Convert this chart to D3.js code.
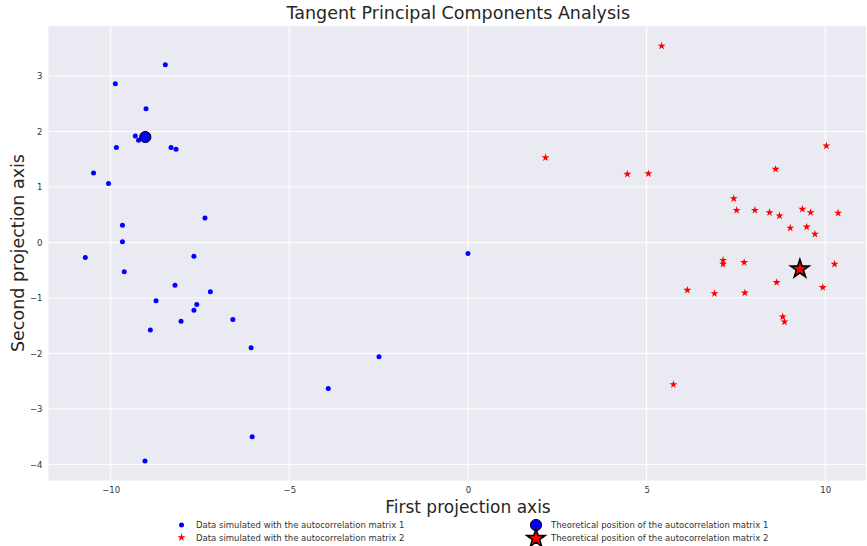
<!DOCTYPE html>
<html><head><meta charset="utf-8">
<script src="https://cdn.jsdelivr.net/npm/d3@7"></script>
<style>body{margin:0;background:#fff;} text{font-family:"DejaVu Sans",sans-serif;}</style>
</head><body>
<svg id="c" width="867" height="546"></svg>
<script>
const series1X = [-8.47,-9.87,-9.01,-9.31,-9.22,-9.84,-8.31,-8.17,-10.48,-10.06,-9.67,-7.36,-9.67,-10.71,-7.67,-9.62,-8.20,-7.21,-8.73,-7.59,-7.67,-6.58,-8.03,-8.89,-6.07,-3.91,-6.04,-9.04,-2.49,0.0];
const series1Y = [3.20,2.86,2.41,1.92,1.84,1.71,1.71,1.68,1.25,1.06,0.31,0.44,0.01,-0.27,-0.25,-0.53,-0.77,-0.89,-1.05,-1.12,-1.22,-1.39,-1.42,-1.58,-1.90,-2.63,-3.50,-3.94,-2.06,-0.20];
const series2X = [5.42,2.17,4.46,5.05,10.03,8.61,7.44,7.52,8.03,8.44,8.72,9.36,9.59,10.36,9.02,9.48,9.71,7.14,7.14,7.73,10.26,8.64,9.93,6.14,6.90,7.75,8.81,8.86,5.75];
const series2Y = [3.54,1.53,1.23,1.24,1.74,1.32,0.79,0.58,0.58,0.54,0.48,0.60,0.54,0.53,0.26,0.28,0.15,-0.32,-0.39,-0.36,-0.39,-0.72,-0.81,-0.86,-0.92,-0.91,-1.34,-1.43,-2.56];
const theory1 = [-9.03, 1.90];
const theory2 = [9.29, -0.48];
const xTicks = [-10,-5,0,5,10];
const yTicks = [-4,-3,-2,-1,0,1,2,3];
const legendLabels = ["Data simulated with the autocorrelation matrix 1","Data simulated with the autocorrelation matrix 2","Theoretical position of the autocorrelation matrix 1","Theoretical position of the autocorrelation matrix 2"];

const svg = d3.select("#c");
const L=48.5, R=866, T=26, B=480.5;
const x = d3.scaleLinear().domain([-11.74, 11.14]).range([L, R]);
const y = d3.scaleLinear().domain([-4.29, 3.9]).range([B, T]);

svg.append("rect").attr("x",L).attr("y",T).attr("width",R-L).attr("height",B-T).attr("fill","#eaeaf2");
const g = svg.append("g");
g.selectAll(".gx").data(xTicks).join("line").attr("x1",d=>x(d)).attr("x2",d=>x(d)).attr("y1",T).attr("y2",B).attr("stroke","#fff").attr("stroke-width",1);
g.selectAll(".gy").data(yTicks).join("line").attr("y1",d=>y(d)).attr("y2",d=>y(d)).attr("x1",L).attr("x2",R).attr("stroke","#fff").attr("stroke-width",1);

const fmt = d => d < 0 ? "\u2212" + Math.abs(d) : String(d);
const xAxis = svg.append("g").attr("transform",`translate(0,${B})`).call(d3.axisBottom(x).tickValues(xTicks).tickSize(0).tickPadding(6).tickFormat(fmt));
const yAxis = svg.append("g").attr("transform",`translate(${L},0)`).call(d3.axisLeft(y).tickValues(yTicks).tickSize(0).tickPadding(6).tickFormat(fmt));
[xAxis,yAxis].forEach(a=>{a.select(".domain").remove(); a.selectAll("text").attr("fill","#333").attr("font-size","8.5px").attr("font-family","DejaVu Sans");});

const pts1 = series1X.map((v,i)=>[v,series1Y[i]]);
const pts2 = series2X.map((v,i)=>[v,series2Y[i]]);
svg.selectAll(".p1").data(pts1).join("circle").attr("cx",d=>x(d[0])).attr("cy",d=>y(d[1])).attr("r",2.5).attr("fill","#0000ff");
const starSmall = d3.symbol().type(d3.symbolStar).size(20);
svg.selectAll(".p2").data(pts2).join("path").attr("d",starSmall).attr("transform",d=>`translate(${x(d[0])},${y(d[1])})`).attr("fill","#ff0000");

svg.append("circle").attr("cx",x(theory1[0])).attr("cy",y(theory1[1])).attr("r",5.6).attr("fill","#0000ff").attr("stroke","#000").attr("stroke-width",1);
const starBig = d3.symbol().type(d3.symbolStar).size(105);
svg.append("path").attr("d",starBig).attr("transform",`translate(${x(theory2[0])},${y(theory2[1])})`).attr("fill","#ff0000").attr("stroke","#000").attr("stroke-width",1.6);

svg.append("text").attr("x",(L+R)/2+1).attr("y",19).attr("text-anchor","middle").attr("font-size","17.5px").attr("fill","#262626").text("Tangent Principal Components Analysis");
svg.append("text").attr("x",x(0)).attr("y",513).attr("text-anchor","middle").attr("font-size","17px").attr("fill","#262626").text("First projection axis");
svg.append("text").attr("transform","translate(24,253) rotate(-90)").attr("text-anchor","middle").attr("font-size","17.5px").attr("fill","#262626").text("Second projection axis");

const lg = svg.append("g");
const rows=[525,537.5];
lg.append("circle").attr("cx",181.5).attr("cy",rows[0]).attr("r",2.5).attr("fill","#0000ff");
lg.append("path").attr("d",starSmall).attr("transform",`translate(181.5,${rows[1]})`).attr("fill","#ff0000");
lg.append("circle").attr("cx",536).attr("cy",rows[0]).attr("r",5.6).attr("fill","#0000ff").attr("stroke","#000").attr("stroke-width",1);
lg.append("path").attr("d",starBig).attr("transform",`translate(536,${rows[1]+1})`).attr("fill","#ff0000").attr("stroke","#000").attr("stroke-width",1.6);
const lx=[196,196,551,551], ly=[rows[0],rows[1],rows[0],rows[1]];
lg.selectAll("text").data(legendLabels).join("text").attr("x",(d,i)=>lx[i]).attr("y",(d,i)=>ly[i]+3).attr("font-size","8.5px").attr("fill","#333").text(d=>d);
</script>
</body></html>
